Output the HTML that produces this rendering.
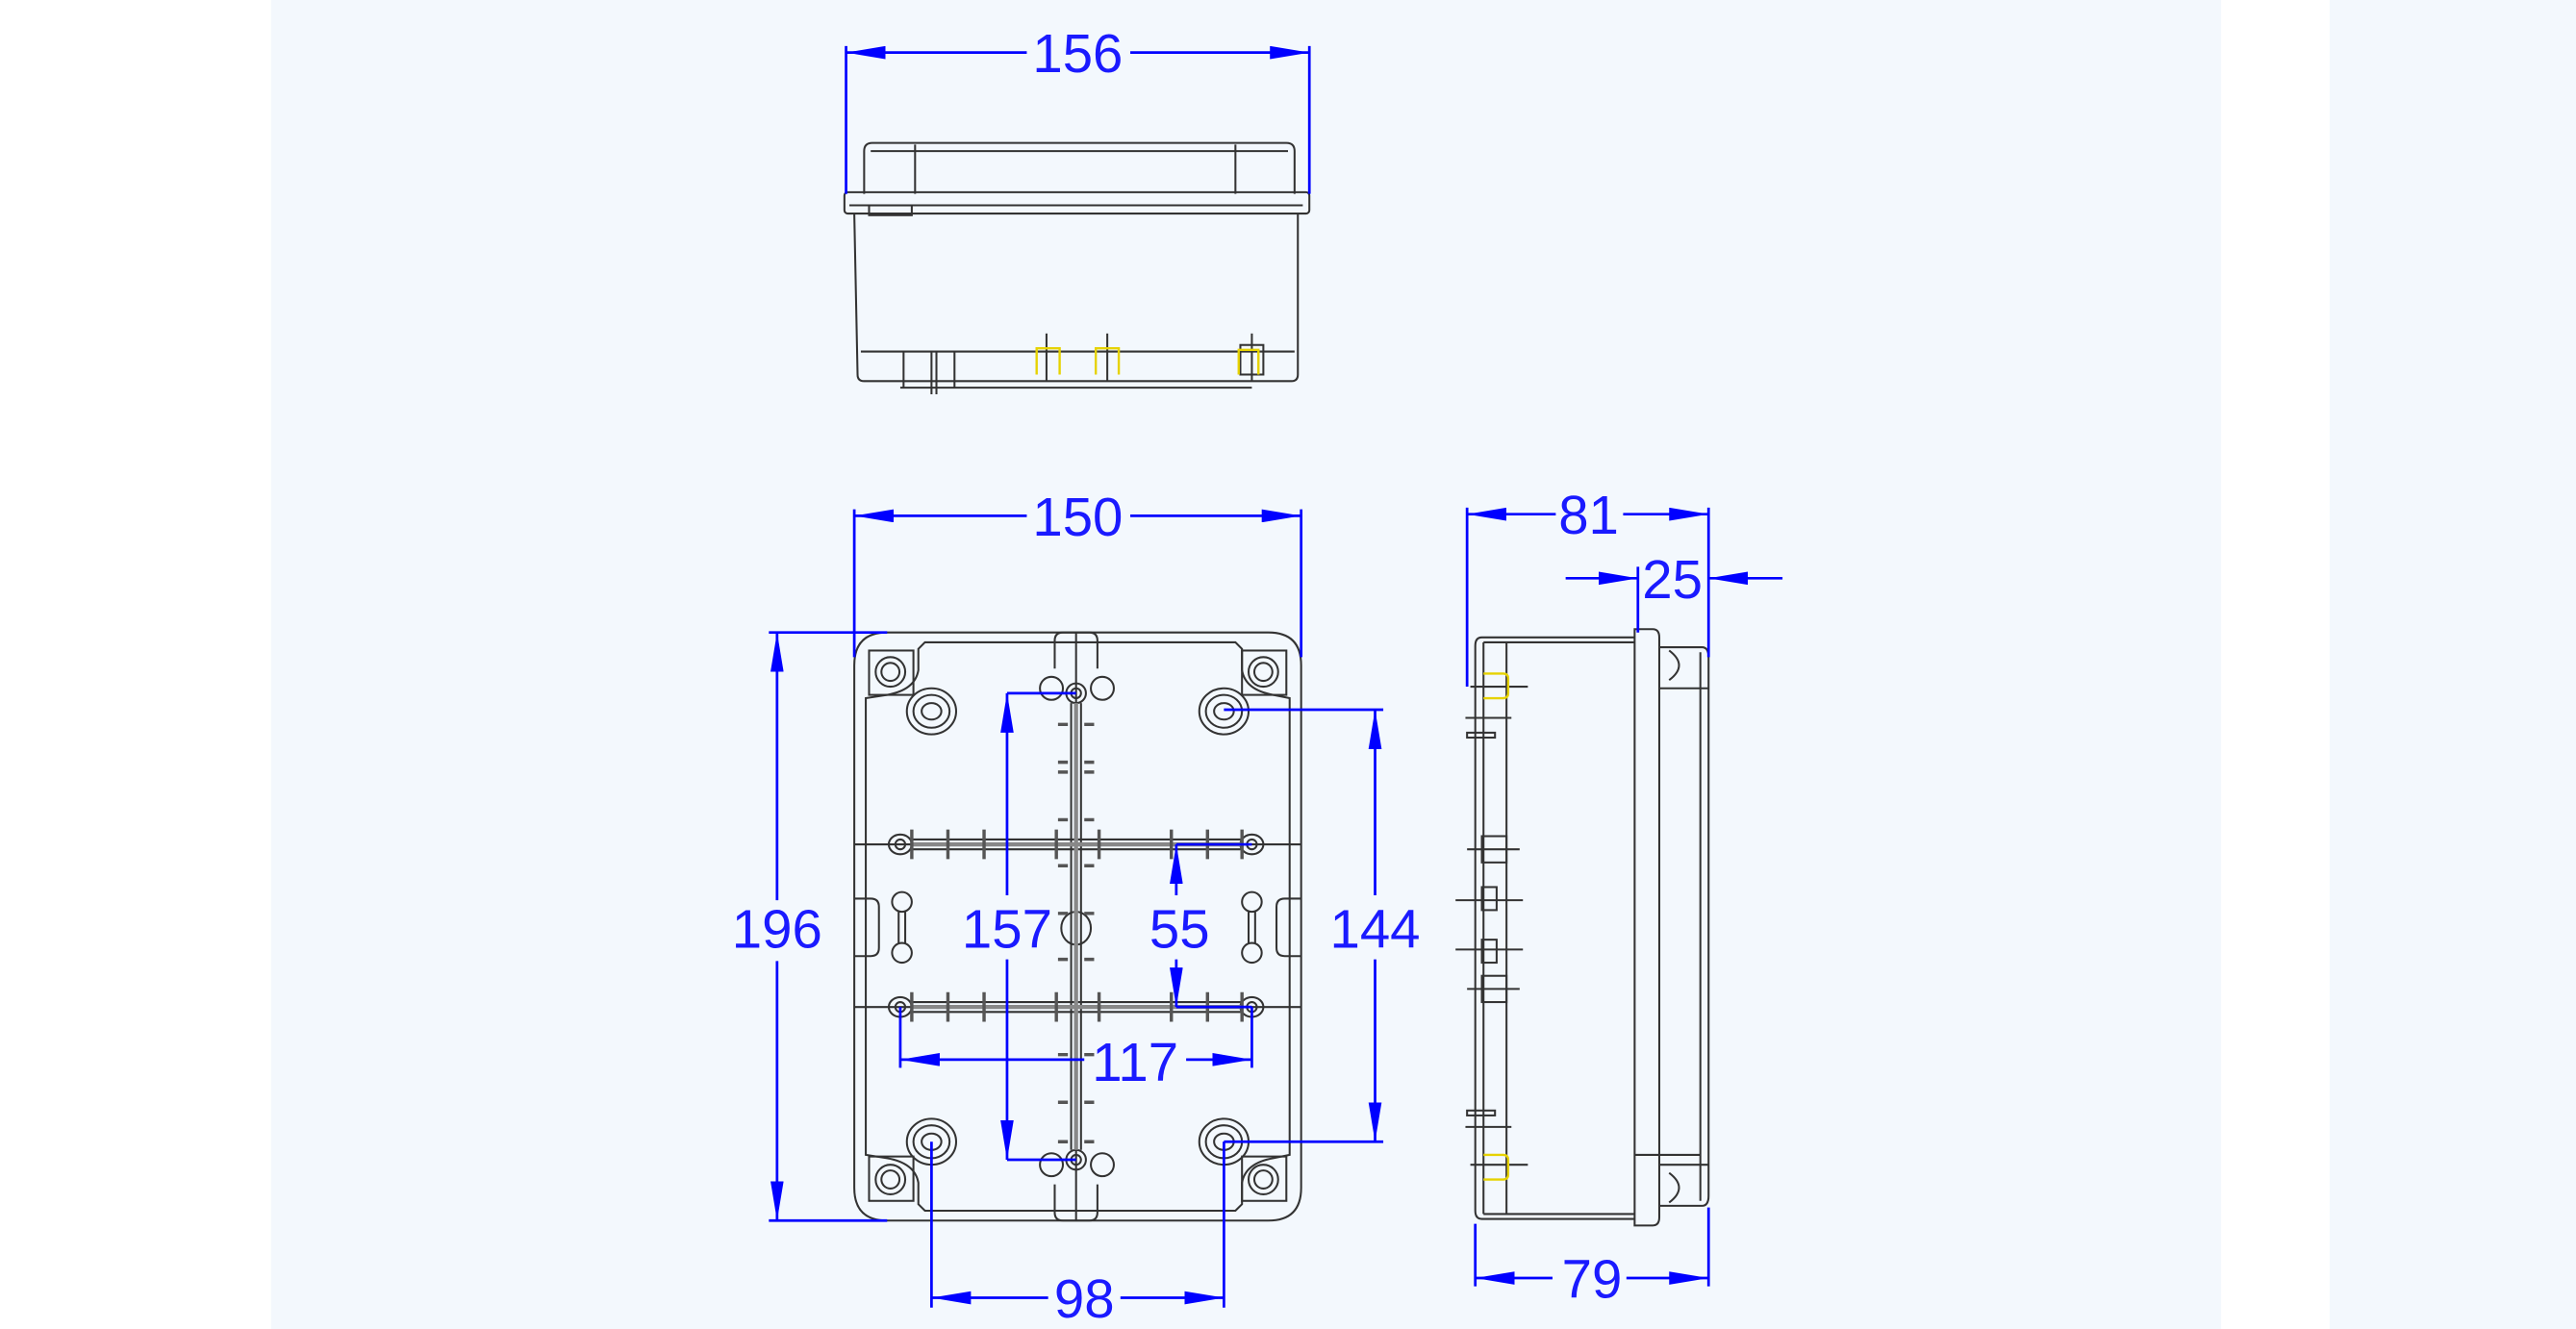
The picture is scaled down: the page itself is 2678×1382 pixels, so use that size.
<!DOCTYPE html>
<html><head><meta charset="utf-8"><style>
html,body{margin:0;padding:0;background:#fff;}
svg{display:block;}
text{font-family:"Liberation Sans",sans-serif;fill:#1a1aff;font-size:33px;}
</style></head><body>
<svg width="2678" height="1382" viewBox="0 0 1568 809" preserveAspectRatio="none" xmlns="http://www.w3.org/2000/svg">
<rect x="0" y="0" width="1568" height="809" fill="#fff"/>
<rect x="165" y="0" width="1187" height="809" fill="#f3f8fd"/>
<rect x="1418" y="0" width="150" height="809" fill="#f3f8fd"/>
<defs>
<marker id="b" viewBox="0 0 24 8" refX="24" refY="4" markerWidth="24" markerHeight="8" orient="auto-start-reverse" markerUnits="userSpaceOnUse"><path d="M0,0L24,4L0,8z" fill="#0000ff"/></marker>
</defs>

<!-- ===== TOP VIEW ===== -->
<g fill="none" stroke="#333" stroke-width="1.2">
<path d="M526,118 L526,92 Q526,87 531,87 L783,87 Q788,87 788,92 L788,118"/>
<line x1="530" y1="92" x2="784" y2="92"/>
<line x1="557" y1="88" x2="557" y2="118"/>
<line x1="752" y1="88" x2="752" y2="118"/>
<rect x="514" y="117" width="283" height="13" rx="2"/>
<line x1="517" y1="125" x2="793" y2="125"/>
<rect x="529" y="125" width="26" height="6"/>
<path d="M520,130 L522,228 Q522,232 526,232 L786,232 Q790,232 790,228 L790,130"/>
<line x1="548" y1="236" x2="762" y2="236"/>
<line x1="524" y1="214" x2="788" y2="214"/>
<line x1="550" y1="214" x2="550" y2="236"/>
<line x1="567" y1="214" x2="567" y2="240"/>
<line x1="570" y1="214" x2="570" y2="240"/>
<line x1="581" y1="214" x2="581" y2="236"/>
<line x1="637" y1="203" x2="637" y2="232"/>
<line x1="674" y1="203" x2="674" y2="232"/>
<line x1="762" y1="203" x2="762" y2="232"/>
<rect x="755" y="210" width="14" height="18"/>
</g>
<g fill="none" stroke="#e6d200" stroke-width="1.4">
<path d="M631,228 L631,212 L645,212 L645,228"/>
<path d="M667,228 L667,212 L681,212 L681,228"/>
<path d="M754,228 L754,213 L766,213 L766,228"/>
</g>
<g stroke="#0000ff" stroke-width="1.6" fill="none">
<line x1="515" y1="28" x2="515" y2="118"/>
<line x1="797" y1="28" x2="797" y2="118"/>
<line x1="625" y1="32" x2="515" y2="32" marker-end="url(#b)"/>
<line x1="688" y1="32" x2="797" y2="32" marker-end="url(#b)"/>
</g>
<text x="656" y="44" text-anchor="middle">156</text>

<!-- ===== FRONT VIEW ===== -->
<g fill="none" stroke="#333" stroke-width="1.2">
<path d="M540,385 L772,385 Q792,385 792,405 L792,723 Q792,743 772,743 L540,743 Q520,743 520,723 L520,405 Q520,385 540,385 Z"/>
<path d="M563,391 L752,391 L756,395 L756,408 Q758,420 775,423 L785,425 L785,703 L775,705 Q758,708 756,720 L756,733 L752,737 L563,737 L559,733 L559,720 Q557,708 540,705 L527,703 L527,425 L540,423 Q557,420 559,408 L559,395 Z"/>
<rect x="529" y="396" width="27" height="27"/><circle cx="542" cy="409" r="9"/><circle cx="542" cy="409" r="5.5"/>
<rect x="756" y="396" width="27" height="27"/><circle cx="769" cy="409" r="9"/><circle cx="769" cy="409" r="5.5"/>
<rect x="529" y="704" width="27" height="27"/><circle cx="542" cy="718" r="9"/><circle cx="542" cy="718" r="5.5"/>
<rect x="756" y="704" width="27" height="27"/><circle cx="769" cy="718" r="9"/><circle cx="769" cy="718" r="5.5"/>
<ellipse cx="567" cy="433" rx="15" ry="14"/><ellipse cx="567" cy="433" rx="11" ry="10"/><ellipse cx="567" cy="433" rx="6" ry="5"/>
<ellipse cx="745" cy="433" rx="15" ry="14"/><ellipse cx="745" cy="433" rx="11" ry="10"/><ellipse cx="745" cy="433" rx="6" ry="5"/>
<ellipse cx="567" cy="695" rx="15" ry="14"/><ellipse cx="567" cy="695" rx="11" ry="10"/><ellipse cx="567" cy="695" rx="6" ry="5"/>
<ellipse cx="745" cy="695" rx="15" ry="14"/><ellipse cx="745" cy="695" rx="11" ry="10"/><ellipse cx="745" cy="695" rx="6" ry="5"/>
<path d="M642,407 L642,390 Q642,385 647,385 L663,385 Q668,385 668,390 L668,407"/>
<path d="M642,721 L642,738 Q642,743 647,743 L663,743 Q668,743 668,738 L668,721"/>
<line x1="655" y1="385" x2="655" y2="743"/>
<circle cx="640" cy="419" r="7"/><circle cx="671" cy="419" r="7"/>
<circle cx="640" cy="709" r="7"/><circle cx="671" cy="709" r="7"/>
<circle cx="655" cy="422" r="6"/><circle cx="655" cy="422" r="3"/>
<circle cx="655" cy="706" r="6"/><circle cx="655" cy="706" r="3"/>
<line x1="652" y1="428" x2="652" y2="700"/><line x1="658" y1="428" x2="658" y2="700"/>
<line x1="520" y1="514" x2="792" y2="514"/><line x1="520" y1="613" x2="792" y2="613"/>
<line x1="555" y1="511" x2="755" y2="511"/><line x1="555" y1="517" x2="755" y2="517"/>
<line x1="555" y1="610" x2="755" y2="610"/><line x1="555" y1="616" x2="755" y2="616"/>
<ellipse cx="548" cy="514" rx="7" ry="6"/><circle cx="548" cy="514" r="3"/>
<ellipse cx="762" cy="514" rx="7" ry="6"/><circle cx="762" cy="514" r="3"/>
<ellipse cx="548" cy="613" rx="7" ry="6"/><circle cx="548" cy="613" r="3"/>
<ellipse cx="762" cy="613" rx="7" ry="6"/><circle cx="762" cy="613" r="3"/>
<circle cx="549" cy="549" r="6"/><circle cx="549" cy="580" r="6"/><line x1="547" y1="555" x2="547" y2="574"/><line x1="551" y1="555" x2="551" y2="574"/>
<circle cx="762" cy="549" r="6"/><circle cx="762" cy="580" r="6"/><line x1="760" y1="555" x2="760" y2="574"/><line x1="764" y1="555" x2="764" y2="574"/>
<path d="M520,547 L530,547 Q535,547 535,552 L535,577 Q535,582 530,582 L520,582"/>
<path d="M792,547 L782,547 Q777,547 777,552 L777,577 Q777,582 782,582 L792,582"/>
<ellipse cx="655" cy="565" rx="9" ry="10"/>
</g>
<g stroke="#888" stroke-width="2.5">
<line x1="555" y1="514" x2="755" y2="514"/><line x1="555" y1="613" x2="755" y2="613"/>
<line x1="655" y1="428" x2="655" y2="700"/>
</g>
<g stroke="#555" stroke-width="2">
<path d="M644,441h6M660,441h6M644,470h6M660,470h6M644,499h6M660,499h6M644,527h6M660,527h6M644,556h6M660,556h6M644,584h6M660,584h6M644,642h6M660,642h6M644,671h6M660,671h6M644,695h6M660,695h6M644,464h6M660,464h6"/>
<path d="M555,505v18M599,505v18M643,505v18M669,505v18M713,505v18M756,505v18M577,505v18M735,505v18"/>
<path d="M555,604v18M599,604v18M643,604v18M669,604v18M713,604v18M756,604v18M577,604v18M735,604v18"/>
</g>
<!-- front dims -->
<g stroke="#0000ff" stroke-width="1.6" fill="none">
<line x1="520" y1="310" x2="520" y2="400"/><line x1="792" y1="310" x2="792" y2="400"/>
<line x1="625" y1="314" x2="520" y2="314" marker-end="url(#b)"/>
<line x1="688" y1="314" x2="792" y2="314" marker-end="url(#b)"/>
<line x1="468" y1="385" x2="540" y2="385"/><line x1="468" y1="743" x2="540" y2="743"/>
<line x1="473" y1="548" x2="473" y2="385" marker-end="url(#b)"/>
<line x1="473" y1="585" x2="473" y2="743" marker-end="url(#b)"/>
<line x1="613" y1="422" x2="655" y2="422"/><line x1="613" y1="706" x2="655" y2="706"/>
<line x1="613" y1="545" x2="613" y2="422" marker-end="url(#b)"/>
<line x1="613" y1="584" x2="613" y2="706" marker-end="url(#b)"/>
<line x1="716" y1="514" x2="762" y2="514"/><line x1="716" y1="613" x2="762" y2="613"/>
<line x1="716" y1="545" x2="716" y2="514" marker-end="url(#b)"/>
<line x1="716" y1="584" x2="716" y2="613" marker-end="url(#b)"/>
<line x1="745" y1="432" x2="842" y2="432"/><line x1="745" y1="695" x2="842" y2="695"/>
<line x1="837" y1="545" x2="837" y2="432" marker-end="url(#b)"/>
<line x1="837" y1="584" x2="837" y2="695" marker-end="url(#b)"/>
<line x1="548" y1="613" x2="548" y2="650"/><line x1="762" y1="613" x2="762" y2="650"/>
<line x1="660" y1="645" x2="548" y2="645" marker-end="url(#b)"/>
<line x1="722" y1="645" x2="762" y2="645" marker-end="url(#b)"/>
<line x1="567" y1="695" x2="567" y2="796"/><line x1="745" y1="695" x2="745" y2="796"/>
<line x1="638" y1="790" x2="567" y2="790" marker-end="url(#b)"/>
<line x1="682" y1="790" x2="745" y2="790" marker-end="url(#b)"/>
</g>
<text x="473" y="577" text-anchor="middle">196</text>
<text x="613" y="577" text-anchor="middle">157</text>
<text x="718" y="577" text-anchor="middle">55</text>
<text x="837" y="577" text-anchor="middle">144</text>
<text x="691" y="658" text-anchor="middle">117</text>
<text x="660" y="802" text-anchor="middle">98</text>
<text x="656" y="326" text-anchor="middle">150</text>

<!-- ===== SIDE VIEW ===== -->
<g fill="none" stroke="#333" stroke-width="1.2">
<path d="M995,388 L902,388 Q898,388 898,393 L898,737 Q898,742 902,742 L995,742"/>
<line x1="903" y1="391" x2="903" y2="739"/>
<line x1="917" y1="391" x2="917" y2="739"/>
<line x1="903" y1="391" x2="995" y2="391"/><line x1="903" y1="739" x2="995" y2="739"/>
<path d="M995,383 L1006,383 Q1010,383 1010,388 L1010,741 Q1010,746 1006,746 L995,746 Z"/>
<path d="M1010,394 L1036,394 Q1040,394 1040,400 L1040,728 Q1040,734 1036,734 L1010,734"/>
<line x1="1035" y1="397" x2="1035" y2="731"/>
<line x1="1010" y1="419" x2="1040" y2="419"/><line x1="1010" y1="709" x2="1040" y2="709"/>
<path d="M1016,396 Q1028,405 1016,414"/><path d="M1016,714 Q1028,723 1016,732"/>
<line x1="995" y1="703" x2="1035" y2="703"/>
<rect x="902" y="509" width="15" height="16"/><rect x="902" y="594" width="15" height="16"/>
<rect x="902" y="540" width="9" height="14"/><rect x="902" y="572" width="9" height="14"/>
<line x1="886" y1="548" x2="927" y2="548"/><line x1="886" y1="578" x2="927" y2="578"/>
<line x1="892" y1="437" x2="920" y2="437"/><line x1="892" y1="686" x2="920" y2="686"/>
<line x1="895" y1="418" x2="930" y2="418"/><line x1="895" y1="709" x2="930" y2="709"/>
<line x1="893" y1="517" x2="925" y2="517"/><line x1="893" y1="602" x2="925" y2="602"/>
<rect x="893" y="446" width="17" height="3"/><rect x="893" y="676" width="17" height="3"/>
</g>
<g fill="none" stroke="#e6d200" stroke-width="1.4">
<path d="M903,410 L915,410 Q918,410 918,413 L918,422 Q918,425 915,425 L903,425"/>
<path d="M903,703 L915,703 Q918,703 918,706 L918,715 Q918,718 915,718 L903,718"/>
</g>
<g stroke="#0000ff" stroke-width="1.6" fill="none">
<line x1="893" y1="309" x2="893" y2="418"/><line x1="1040" y1="309" x2="1040" y2="400"/>
<line x1="947" y1="313" x2="893" y2="313" marker-end="url(#b)"/>
<line x1="988" y1="313" x2="1040" y2="313" marker-end="url(#b)"/>
<line x1="997" y1="345" x2="997" y2="385"/>
<line x1="953" y1="352" x2="997" y2="352" marker-end="url(#b)"/>
<line x1="1085" y1="352" x2="1040" y2="352" marker-end="url(#b)"/>
<line x1="898" y1="745" x2="898" y2="783"/><line x1="1040" y1="735" x2="1040" y2="783"/>
<line x1="945" y1="778" x2="898" y2="778" marker-end="url(#b)"/>
<line x1="990" y1="778" x2="1040" y2="778" marker-end="url(#b)"/>
</g>
<text x="967" y="325" text-anchor="middle">81</text>
<text x="1018" y="364" text-anchor="middle">25</text>
<text x="969" y="790" text-anchor="middle">79</text>
</svg>
</body></html>
